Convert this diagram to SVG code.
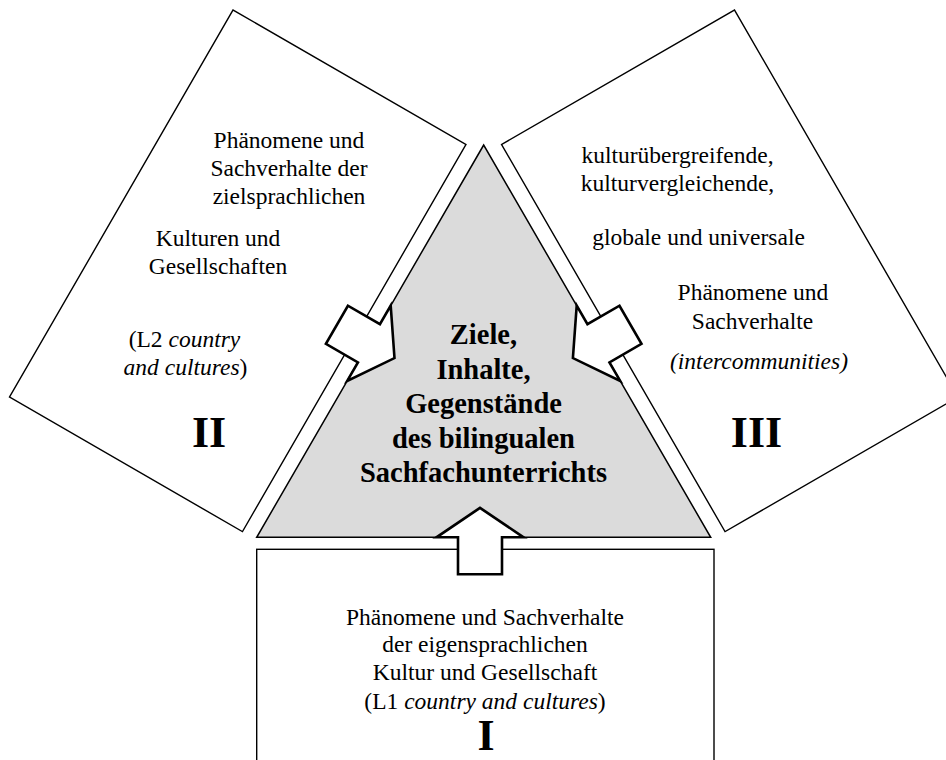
<svg xmlns="http://www.w3.org/2000/svg" width="946" height="760" viewBox="0 0 946 760">
  <style>
    .box { fill: #ffffff; stroke: #000000; stroke-width: 1.4; }
    .core { fill: #dbdbdb; stroke: #000000; stroke-width: 1.5; stroke-linejoin: miter; }
    .arrow { fill: #ffffff; stroke: #000000; stroke-width: 2.6; stroke-linejoin: miter; }
    text { font-family: "Liberation Serif", "Times New Roman", serif; fill: #000000; text-anchor: middle; }
    .t { font-size: 23.5px; }
    .b { font-size: 28.5px; font-weight: bold; }
    .num { font-size: 44px; font-weight: bold; }
    .i { font-style: italic; }
  </style>
  <defs>
    <!-- block arrow, pointing along +x, head base at x=0 -->
    <path id="blockArrow" d="M29.5,0 L0,-43.5 L0,-22 L-37,-22 L-37,22 L0,22 L0,43.5 Z"/>
  </defs>

  <!-- field II: target-language cultures -->
  <g id="node-II">
    <rect class="box" transform="translate(233,10) rotate(30)" x="0" y="0" width="269" height="447"/>
    <text class="t" x="289" y="147.5">Phänomene und</text>
    <text class="t" x="289" y="175.5">Sachverhalte der</text>
    <text class="t" x="289" y="203.5">zielsprachlichen</text>
    <text class="t" x="218" y="245.5">Kulturen und</text>
    <text class="t" x="218" y="274">Gesellschaften</text>
    <text class="t" x="184.5" y="346.5">(L2 <tspan class="i">country</tspan></text>
    <text class="t" x="185.5" y="375"><tspan class="i">and cultures</tspan>)</text>
    <text class="num" x="209" y="447">II</text>
  </g>

  <!-- field III: intercultural phenomena -->
  <g id="node-III">
    <rect class="box" transform="translate(734.5,10) rotate(-30)" x="-269" y="0" width="269" height="447"/>
    <text class="t" x="677.5" y="162.5">kulturübergreifende,</text>
    <text class="t" x="677.5" y="190.5">kulturvergleichende,</text>
    <text class="t" x="698.5" y="245">globale und universale</text>
    <text class="t" x="753" y="300">Phänomene und</text>
    <text class="t" x="752.5" y="328.5">Sachverhalte</text>
    <text class="t i" x="759" y="369">(intercommunities)</text>
    <text class="num" x="756.5" y="447">III</text>
  </g>

  <!-- field I: own-language culture -->
  <g id="node-I">
    <rect class="box" x="256.7" y="549.3" width="457.3" height="260"/>
    <text class="t" x="485" y="625">Phänomene und Sachverhalte</text>
    <text class="t" x="485" y="652">der eigensprachlichen</text>
    <text class="t" x="485" y="680">Kultur und Gesellschaft</text>
    <text class="t" x="485" y="708.5">(L1 <tspan class="i">country and cultures</tspan>)</text>
    <text class="num" x="486" y="750">I</text>
  </g>

  <!-- central triangle -->
  <g id="node-core">
    <polygon class="core" points="483.7,145 256.7,537.3 710.7,537.3"/>
    <text class="b" x="483.5" y="344">Ziele,</text>
    <text class="b" x="483.5" y="378.5">Inhalte,</text>
    <text class="b" x="483.5" y="413">Gegenstände</text>
    <text class="b" x="483.5" y="447.5">des bilingualen</text>
    <text class="b" x="483.5" y="482">Sachfachunterrichts</text>
  </g>

  <!-- arrows from each field into the triangle -->
  <g id="connectors">
    <use href="#blockArrow" class="arrow" transform="translate(368.95,343.3) rotate(30)"/>
    <use href="#blockArrow" class="arrow" transform="translate(598.45,343.3) scale(-1,1) rotate(30)"/>
    <use href="#blockArrow" class="arrow" transform="translate(480,537.3) rotate(-90)"/>
  </g>
</svg>
